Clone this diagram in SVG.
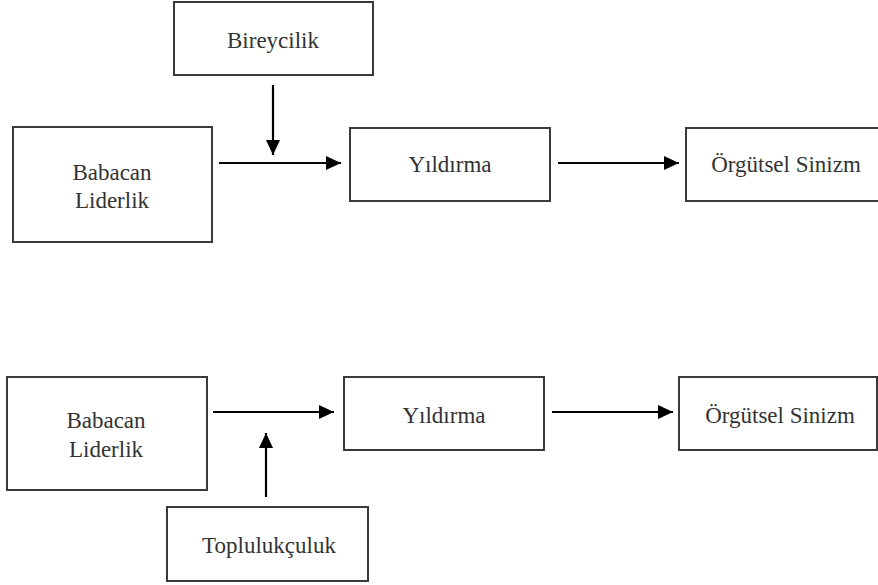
<svg xmlns="http://www.w3.org/2000/svg" width="878" height="585" viewBox="0 0 878 585">
<style>
.box{fill:#fff;stroke:#3a3a3a;stroke-width:2}
.t{font-size:23px;fill:#333;text-anchor:middle}
.c{stroke:#000;stroke-width:2.2;fill:none;marker-end:url(#ah)}
</style>
<defs>
<marker id="ah" markerUnits="userSpaceOnUse" markerWidth="16" markerHeight="14" refX="15" refY="7" orient="auto">
<path d="M0,0 L15,7 L0,14 Z" fill="#000"/>
</marker>
</defs>
<rect width="878" height="585" fill="#fff"/>
<g font-family="Liberation Serif, Times New Roman, serif">
<g id="bireycilik"><rect class="box" x="174" y="2" width="199" height="73"/><text class="t" x="273" y="48">Bireycilik</text></g>
<g id="babacan1"><rect class="box" x="13" y="127" width="199" height="115"/><text class="t" x="112" y="180">Babacan</text><text class="t" x="112" y="208">Liderlik</text></g>
<g id="yildirma1"><rect class="box" x="350" y="128" width="200" height="73"/><text class="t" x="450" y="172">Yıldırma</text></g>
<g id="sinizm1"><rect class="box" x="686" y="128" width="200" height="73"/><text class="t" x="786" y="172">Örgütsel Sinizm</text></g>
<g id="babacan2"><rect class="box" x="7" y="377" width="200" height="113"/><text class="t" x="106" y="428">Babacan</text><text class="t" x="106" y="457">Liderlik</text></g>
<g id="yildirma2"><rect class="box" x="344" y="377" width="200" height="73"/><text class="t" x="444" y="423">Yıldırma</text></g>
<g id="sinizm2"><rect class="box" x="679" y="377" width="198" height="73"/><text class="t" x="780" y="423">Örgütsel Sinizm</text></g>
<g id="toplulukculuk"><rect class="box" x="167" y="507" width="201" height="74"/><text class="t" x="269" y="553">Toplulukçuluk</text></g>
</g>
<g id="connectors">
<line class="c" x1="273" y1="85" x2="273" y2="155"/>
<line class="c" x1="219" y1="163" x2="341" y2="163"/>
<line class="c" x1="558" y1="163" x2="679" y2="163"/>
<line class="c" x1="266" y1="497" x2="266" y2="433"/>
<line class="c" x1="213" y1="412" x2="334" y2="412"/>
<line class="c" x1="552" y1="412" x2="673" y2="412"/>
</g>
</svg>
